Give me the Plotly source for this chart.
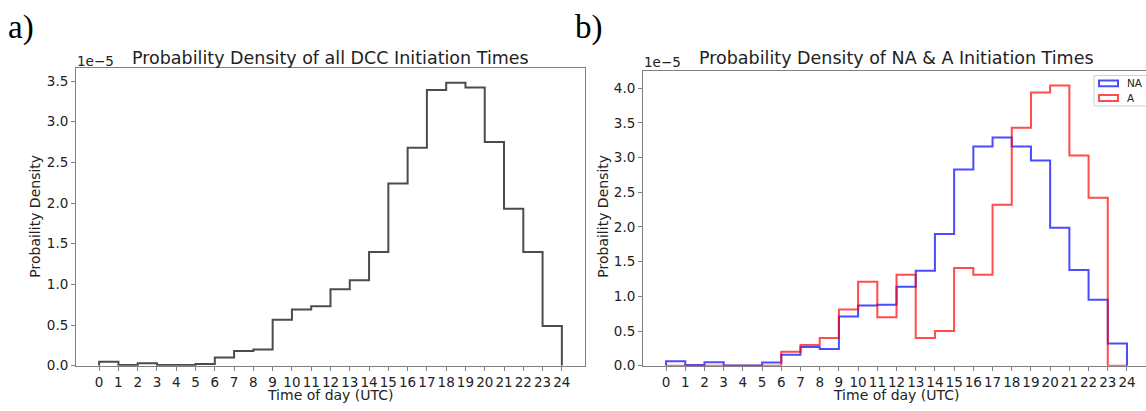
import plotly.graph_objects as go

# ---- data (probability density, in units of 1e-5) ----
hours = list(range(25))  # bin edges 0..24 (UTC)
tick_labels = [str(h) for h in hours]
all_dcc = [0.05, 0.01, 0.03, 0.01, 0.01, 0.02, 0.10, 0.18, 0.20, 0.567, 0.69, 0.73,
           0.94, 1.05, 1.40, 2.24, 2.68, 3.39, 3.48, 3.42, 2.75, 1.93, 1.40, 0.49]
na_dens = [0.066, 0.01, 0.05, 0.005, 0.005, 0.045, 0.16, 0.27, 0.24, 0.71, 0.87, 0.88,
           1.14, 1.37, 1.90, 2.83, 3.16, 3.29, 3.16, 2.96, 1.99, 1.38, 0.95, 0.32]
a_dens = [0.0, 0.0, 0.0, 0.0, 0.0, 0.0, 0.20, 0.30, 0.40, 0.81, 1.21, 0.70,
          1.31, 0.40, 0.50, 1.41, 1.31, 2.32, 3.43, 3.94, 4.04, 3.03, 2.42, 0.0]
left_yticks = [0.0, 0.5, 1.0, 1.5, 2.0, 2.5, 3.0, 3.5]
right_yticks = [0.0, 0.5, 1.0, 1.5, 2.0, 2.5, 3.0, 3.5, 4.0]

W, H = 1146, 411
FONT = "DejaVu Sans"
AXC = "#808080"


def step_xy(edges, vals):
    # matplotlib 'step' histogram outline: up from 0, across each bin, down to 0
    xs = [edges[0]] + list(edges)
    ys = [0] + list(vals) + [0]
    return xs, ys


def px(x):
    return x / W


def py(y):
    return 1 - y / H


fig = go.Figure()

x, y = step_xy(hours, all_dcc)
fig.add_trace(go.Scatter(x=x, y=y, mode="lines", line=dict(color="black", width=2, shape="hv"),
                         opacity=0.7, showlegend=False, xaxis="x", yaxis="y"))
x, y = step_xy(hours, na_dens)
fig.add_trace(go.Scatter(x=x, y=y, mode="lines", name="NA", line=dict(color="blue", width=2, shape="hv"),
                         opacity=0.7, showlegend=False, xaxis="x2", yaxis="y2"))
x, y = step_xy(hours, a_dens)
fig.add_trace(go.Scatter(x=x, y=y, mode="lines", name="A", line=dict(color="red", width=2, shape="hv"),
                         opacity=0.7, showlegend=False, xaxis="x2", yaxis="y2"))

common_x = dict(tickmode="array", tickvals=hours, ticktext=tick_labels, ticks="outside", ticklen=4,
                tickcolor=AXC, showline=True, linecolor=AXC, linewidth=1, showgrid=False, zeroline=False,
                tickfont=dict(family=FONT, size=13.5, color="#222"))
common_y = dict(tickmode="array", ticks="outside", ticklen=4, tickcolor=AXC, showline=True,
                linecolor=AXC, linewidth=1, showgrid=False, zeroline=False,
                tickfont=dict(family=FONT, size=13.5, color="#222"))

fig.update_layout(
    autosize=True, margin=dict(l=0, r=0, t=0, b=0),
    paper_bgcolor="white", plot_bgcolor="white",
    xaxis=dict(domain=[px(76), px(585)], range=[-1.2, 25.2], mirror=True, anchor="y", **common_x),
    yaxis=dict(domain=[py(373), py(69)], range=[0, 3.665], mirror=True, anchor="x",
               tickvals=left_yticks, ticktext=[f"{v:.1f}" for v in left_yticks], **common_y),
    xaxis2=dict(domain=[px(643), 1.0], range=[-1.2, 24.99], mirror=True, anchor="y2", **common_x),
    yaxis2=dict(domain=[py(373), py(72)], range=[0, 4.254], mirror=False, anchor="x2",
                tickvals=right_yticks, ticktext=[f"{v:.1f}" for v in right_yticks], **common_y),
)

ann = []
txt = "#222"
# panel letters
ann.append(dict(text="a)", x=px(6), y=py(28), xanchor="left", yanchor="middle",
                font=dict(family="Liberation Serif", size=33, color="black")))
ann.append(dict(text="b)", x=px(573), y=py(28), xanchor="left", yanchor="middle",
                font=dict(family="Liberation Serif", size=33, color="black")))
# titles
ann.append(dict(text="Probability Density of all DCC Initiation Times", x=px(330.5), y=py(59),
                xanchor="center", yanchor="middle", font=dict(family=FONT, size=17.5, color=txt)))
ann.append(dict(text="Probability Density of NA &amp; A Initiation Times", x=px(896.5), y=py(59),
                xanchor="center", yanchor="middle", font=dict(family=FONT, size=17.5, color=txt)))
# offset text
ann.append(dict(text="1e\u22125", x=px(75), y=py(62), xanchor="left", yanchor="middle",
                font=dict(family=FONT, size=13.5, color=txt)))
ann.append(dict(text="1e\u22125", x=px(642), y=py(63), xanchor="left", yanchor="middle",
                font=dict(family=FONT, size=13.5, color=txt)))
# axis labels
for cx in (330.5, 896.5):
    ann.append(dict(text="Time of day (UTC)", x=px(cx), y=py(403), xanchor="center", yanchor="middle",
                    font=dict(family=FONT, size=14, color=txt)))
for cx in (35, 603):
    ann.append(dict(text="Probaility Density", x=px(cx), y=py(221), xanchor="center", yanchor="middle",
                    textangle=-90, font=dict(family=FONT, size=14, color=txt)))
# legend text
ann.append(dict(text="NA", x=px(1125), y=py(85), xanchor="left", yanchor="middle",
                font=dict(family=FONT, size=10.5, color=txt)))
ann.append(dict(text="A", x=px(1125), y=py(100), xanchor="left", yanchor="middle",
                font=dict(family=FONT, size=10.5, color=txt)))
for a in ann:
    a.update(xref="paper", yref="paper", showarrow=False)
fig.update_layout(annotations=ann)

shapes = [
    dict(type="rect", xref="paper", yref="paper", x0=px(1094), x1=px(1150), y0=py(108), y1=py(77),
         line=dict(color="#d0d0d0", width=1), fillcolor="rgba(255,255,255,0.8)"),
    dict(type="rect", xref="paper", yref="paper", x0=px(1099), x1=px(1118), y0=py(88), y1=py(82),
         line=dict(color="rgba(0,0,255,0.7)", width=2)),
    dict(type="rect", xref="paper", yref="paper", x0=px(1099), x1=px(1118), y0=py(103), y1=py(97),
         line=dict(color="rgba(255,0,0,0.7)", width=2)),
]
fig.update_layout(shapes=shapes)

fig.write_html("out.html", default_width="100vw", default_height="100vh",
               config={"displayModeBar": False},
               post_script="document.body.style.margin='0';document.body.style.overflow='hidden';")
